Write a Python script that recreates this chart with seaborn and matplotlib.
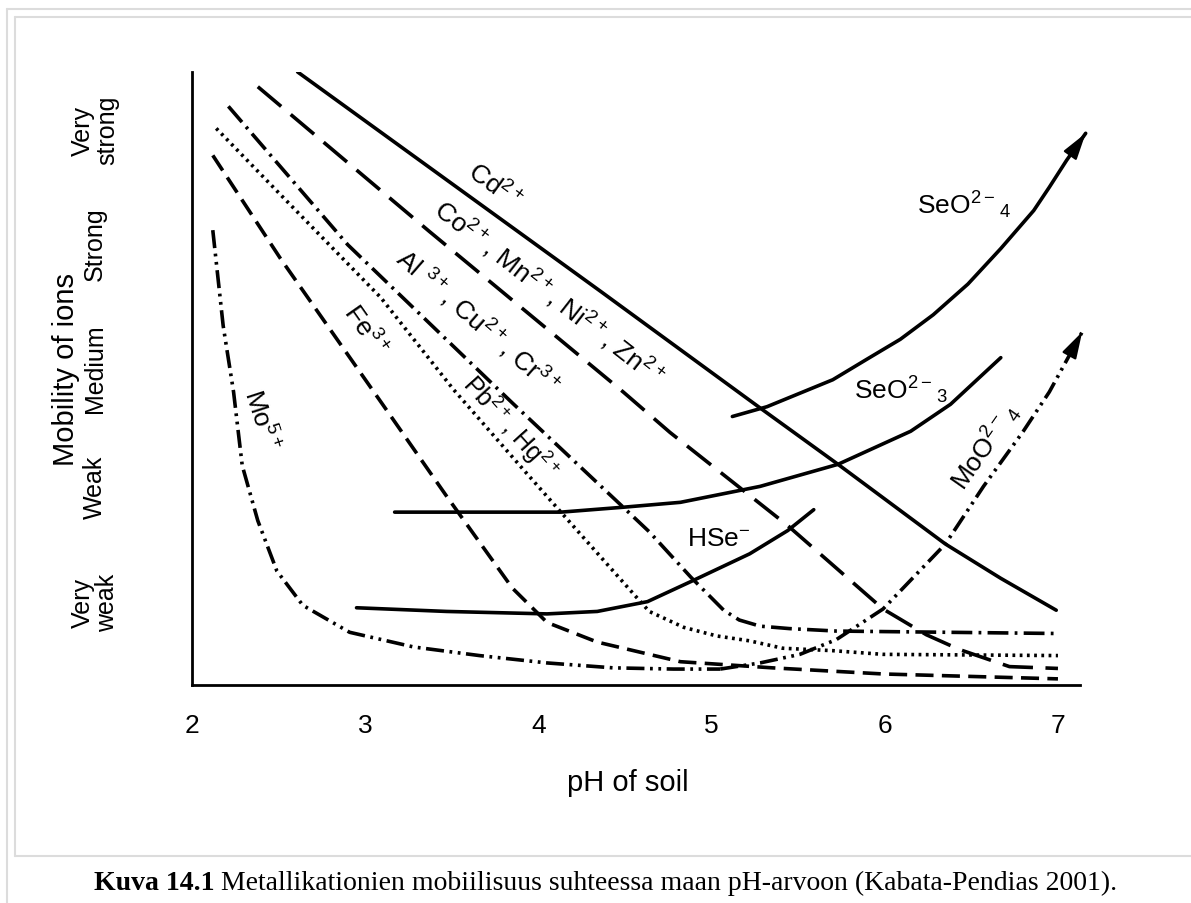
import pandas as pd
import seaborn as sns
import matplotlib.pyplot as plt
from matplotlib.lines import Line2D

# Values.
# x = pH of soil, y = mobility on a 0 (axis) .. 5 (top of the y axis) scale
cd_ph = [2.61, 4.36, 5.28, 5.73, 6.35, 6.67, 6.99]
cd_mob = [5.00, 3.21, 2.26, 1.80, 1.15, 0.87, 0.61]

co_ph = [2.38, 3.37, 4.49, 4.76, 5.44, 5.99, 6.24, 6.43, 6.72, 7.00]
co_mob = [4.88, 3.70, 2.39, 2.06, 1.30, 0.62, 0.41, 0.29, 0.15, 0.135]

al_ph = [2.21, 2.90, 3.85, 4.49, 4.64, 4.88, 5.07, 5.16, 5.28, 5.45, 5.72, 7.00]
al_mob = [4.72, 3.59, 2.30, 1.45, 1.25, 0.88, 0.61, 0.53, 0.48, 0.46, 0.44, 0.42]

pb_ph = [2.14, 2.49, 3.09, 3.51, 3.93, 4.13, 4.57, 4.64, 4.84, 5.03, 5.22, 5.41, 5.70, 5.99, 7.00]
pb_mob = [4.54, 4.03, 3.16, 2.41, 1.73, 1.41, 0.71, 0.60, 0.47, 0.40, 0.36, 0.30, 0.28, 0.25, 0.24]

fe_ph = [2.12, 2.51, 3.10, 3.47, 3.85, 4.05, 4.34, 4.82, 5.35, 5.99, 7.00]
fe_mob = [4.32, 3.48, 2.29, 1.54, 0.79, 0.51, 0.35, 0.19, 0.14, 0.09, 0.05]

mo_ph = [2.12, 2.18, 2.24, 2.29, 2.38, 2.49, 2.64, 2.91, 3.28, 3.66, 4.05, 4.43, 4.78, 5.05]
mo_mob = [3.71, 2.93, 2.39, 1.79, 1.34, 0.93, 0.65, 0.43, 0.31, 0.24, 0.18, 0.14, 0.13, 0.13]

moo4_ph = [5.05, 5.28, 5.51, 5.72, 5.99, 6.35, 6.57, 6.80, 6.95, 7.14]
moo4_mob = [0.13, 0.18, 0.25, 0.37, 0.62, 1.15, 1.62, 2.07, 2.39, 2.88]

seo4_ph = [5.12, 5.32, 5.51, 5.70, 5.90, 6.09, 6.28, 6.48, 6.67, 6.86, 6.95, 7.05, 7.16]
seo4_mob = [2.19, 2.27, 2.38, 2.49, 2.66, 2.82, 3.02, 3.27, 3.56, 3.87, 4.06, 4.28, 4.50]

seo3_ph = [3.17, 3.55, 4.13, 4.49, 4.82, 5.28, 5.73, 6.15, 6.38, 6.67]
seo3_mob = [1.41, 1.41, 1.41, 1.45, 1.49, 1.62, 1.80, 2.07, 2.29, 2.67]

hse_ph = [2.95, 3.47, 4.05, 4.34, 4.63, 4.89, 5.22, 5.44, 5.59]
hse_mob = [0.63, 0.60, 0.58, 0.60, 0.68, 0.85, 1.07, 1.26, 1.43]

ph_ticks = [2, 3, 4, 5, 6, 7]
mob_ticks = [0, 1.03, 2.07, 3.12, 4.10, 5.0]
mob_classes = ["Very\nweak", "Weak", "Medium", "Strong", "Very\nstrong"]
mob_class_pos = [0.68, 1.62, 2.59, 3.60, 4.53]

ion_labels = [r"Cd$^{2+}$", r"Co$^{2+}$, Mn$^{2+}$, Ni$^{2+}$, Zn$^{2+}$",
              r"Al $^{3+}$, Cu$^{2+}$, Cr$^{3+}$", r"Pb$^{2+}$, Hg$^{2+}$",
              r"Fe$^{3+}$", r"Mo$^{5+}$", r"SeO$^{2-}{}_{4}$", r"SeO$^{2-}{}_{3}$",
              r"HSe$^{-}$", r"MoO$^{2-}{}_{4}$"]

caption_bold = "Kuva 14.1"
caption_text = "Metallikationien mobiilisuus suhteessa maan pH-arvoon (Kabata-Pendias 2001)."

sns.set_theme(style="white", rc={"axes.edgecolor": "black", "xtick.color": "black",
                                 "ytick.color": "black", "text.color": "black",
                                 "axes.labelcolor": "black"})
plt.rcParams["font.family"] = ["Liberation Sans", "DejaVu Sans"]
plt.rcParams["mathtext.default"] = "regular"
plt.rcParams["lines.scale_dashes"] = False

W, H = 1191, 904
fig = plt.figure(figsize=(W / 100, H / 100), dpi=100)
ax = fig.add_axes([192 / W, 1 - 686 / H, 900.6 / W, 613 / H])

#------------------------------------------------------------------#
# curves
series = [
    (cd_ph, cd_mob, None),
    (co_ph, co_mob, (22, 9)),
    (al_ph, al_mob, (15, 4.5, 2, 4.5)),
    (pb_ph, pb_mob, (2, 3.2)),
    (fe_ph, fe_mob, (13, 6)),
    (mo_ph, mo_mob, (13, 4, 2, 4, 2, 4)),
    (moo4_ph, moo4_mob, (13, 4, 2, 4, 2, 4)),
    (seo4_ph, seo4_mob, None),
    (seo3_ph, seo3_mob, None),
    (hse_ph, hse_mob, None),
]
for ph, mob, dash in series:
    sns.lineplot(x=ph, y=mob, ax=ax, color="black", linewidth=2.6,
                 sort=False, estimator=None)
    if dash is not None:
        ax.lines[-1].set_dashes(dash)

# arrow heads on the anion curves
for ph, mob in [(seo4_ph, seo4_mob), (moo4_ph, moo4_mob)]:
    tail = (ph[-1] - 0.3 * (ph[-1] - ph[-2]), mob[-1] - 0.3 * (mob[-1] - mob[-2]))
    ax.annotate("", xy=(ph[-1], mob[-1]), xytext=tail,
                arrowprops=dict(arrowstyle="-|>,head_length=0.75,head_width=0.22",
                                color="black", lw=1.5, mutation_scale=22,
                                shrinkA=0, shrinkB=0))

# curve labels: (x, y, rotation, size)
label_place = [(3.75, 4.07, -36, 19), (4.06, 3.20, -38, 19), (3.65, 2.97, -41, 19),
               (3.84, 2.11, -48, 18), (3.00, 2.90, -55, 19), (2.40, 2.17, -72, 19),
               (6.46, 3.92, 0, 19), (6.09, 2.41, 0, 19), (5.04, 1.20, 0, 19),
               (6.58, 1.95, 55, 19)]
for text, (x, y, rot, size) in zip(ion_labels, label_place):
    ax.text(x, y, text, rotation=rot, fontsize=size, ha="center", va="center",
            rotation_mode="anchor")

#------------------------------------------------------------------#
# axes
ax.set_xlim(2, 7.2)
ax.set_ylim(0, 5)
ax.set_xticks(ph_ticks)
ax.set_yticks(mob_ticks)
ax.set_yticklabels([])
ax.set_xlabel("")
ax.set_ylabel("")
ax.tick_params(axis="x", direction="in", length=6, width=1.5, labelsize=19, pad=20)
ax.tick_params(axis="y", direction="in", length=6, width=1.5)
for side in ["top", "right"]:
    ax.spines[side].set_visible(False)
for side in ["left", "bottom"]:
    ax.spines[side].set_linewidth(2)
ax.spines["bottom"].set_bounds(2, 7.13)

for lab, pos in zip(mob_classes, mob_class_pos):
    ax.text(1.44, pos, lab, rotation=90, ha="center", va="center", fontsize=18,
            linespacing=1.05, clip_on=False)

fig.text(66 / W, 1 - 370 / H, "Mobility of ions", rotation=90, ha="center",
         va="center", fontsize=21)
fig.text(628 / W, 1 - 783 / H, "pH of soil", ha="center", va="center", fontsize=21)

# thin grey frame like the page the figure was cut from
frame = dict(color="#dcdcdc", lw=1.5, transform=fig.transFigure)
fig.add_artist(Line2D([7 / W, 7 / W], [0, 1 - 10 / H], **frame))
fig.add_artist(Line2D([7 / W, 1], [1 - 10 / H, 1 - 10 / H], **frame))
fig.add_artist(Line2D([15 / W, 15 / W], [1 - 857 / H, 1 - 18 / H], **frame))
fig.add_artist(Line2D([15 / W, 1], [1 - 18 / H, 1 - 18 / H], **frame))
fig.add_artist(Line2D([15 / W, 1], [1 - 857 / H, 1 - 857 / H], **frame))

# caption, bold figure number followed by normal text
t1 = fig.text(0, 1 - 890 / H, caption_bold, family="Liberation Serif", weight="bold",
              fontsize=20, va="baseline")
t2 = fig.text(0, 1 - 890 / H, caption_text, family="Liberation Serif",
              fontsize=20, va="baseline")
fig.canvas.draw()
r = fig.canvas.get_renderer()
w1 = t1.get_window_extent(r).width
w2 = t2.get_window_extent(r).width
gap = 6
x0 = 605.5 - (w1 + gap + w2) / 2
t1.set_x(x0 / W)
t2.set_x((x0 + w1 + gap) / W)

fig.savefig("out.png", dpi=100)
